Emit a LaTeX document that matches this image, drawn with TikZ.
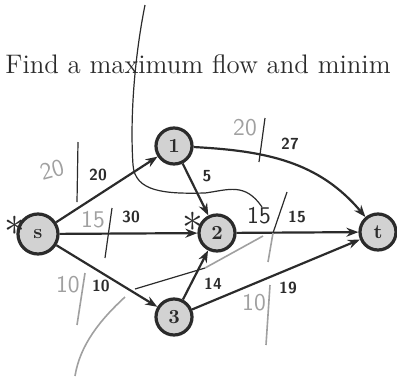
\documentclass[tikz,border=0pt]{standalone}
\usepackage{tikz}
\usetikzlibrary{arrows.meta}
\definecolor{Ink}{HTML}{2B2B2B}
\definecolor{Pencil}{HTML}{A0A0A0}
\definecolor{Shade}{HTML}{D2D2D2}
\tikzset{
  vertex/.style={
    circle,draw=Ink,line width=1.6pt,fill=Shade,inner sep=0pt,
    minimum size=18pt,font=\normalsize\bfseries,text=Ink
  },
  arc/.style={-{Stealth[length=6pt,width=4.5pt]},line width=1.1pt,draw=Ink},
  weight/.style={font=\sffamily\bfseries\footnotesize,text=Ink},
  scrawl/.style={font=\sffamily\large,text=Pencil},
  cutline/.style={line width=0.6pt,draw=Ink},
  pencil/.style={line width=0.8pt,draw=Pencil}
}
\begin{document}
\begin{tikzpicture}[x=0.5pt,y=-0.5pt]
      \useasboundingbox (0,0) rectangle (397,376);
      \node[anchor=base west,font=\fontsize{13.4}{16}\selectfont,text=Ink,inner sep=0pt] (title) at (5,73) {Find a maximum flow and minim};
      \node[vertex,minimum size=20pt] (s) at (38,234) {s};
      \node[vertex] (one) at (174,146) {1};
      \node[vertex] (two) at (217,233) {2};
      \node[vertex] (three) at (174,317) {3};
      \node[vertex] (t) at (378,232) {t};
      \draw[arc] (s) -- (one);
      \draw[arc] (s) -- (two);
      \draw[arc] (s) -- (three);
      \draw[arc] (one) -- (two);
      \draw[arc] (three) -- (two);
      \draw[arc] (two) -- (t);
      \draw[arc] (three) -- (t);
      \draw[arc] (one) to[out=-3,in=130] (t);
      \node[weight] (w1) at (98,175) {20};
      \node[weight] (w2) at (131,217) {30};
      \node[weight] (w3) at (101,286) {10};
      \node[weight] (w4) at (207,176) {5};
      \node[weight] (w5) at (290,144) {27};
      \node[weight] (w6) at (297,217) {15};
      \node[weight] (w7) at (213,284) {14};
      \node[weight] (w8) at (288,288) {19};
      \draw[cutline] (145,5) .. controls (134,60) and (130,120) .. (133,165)
        .. controls (135,192) and (165,194) .. (205,193)
        .. controls (228,190) and (245,182) .. (262,207);
      \draw[cutline] (135,289) -- (205,268);
      \draw[pencil] (205,268) -- (263,236);
      \draw[pencil] (125,297) .. controls (100,320) and (80,345) .. (75,376);
      \draw[cutline] (78,142) -- (77,202);
      \draw[cutline] (112,208) -- (105,258);
      \draw[cutline] (265,118) -- (259,162);
      \draw[cutline] (287,192) -- (273,233);
      \draw[pencil] (273,233) -- (268,262);
      \draw[pencil] (85,273) -- (77,325);
      \draw[pencil] (270,285) -- (266,345);
      \node[scrawl,rotate=15] (f1) at (52,170) {20};
      \node[scrawl] (f2) at (93,220) {15};
      \node[scrawl] (f3) at (68,285) {10};
      \node[scrawl] (f4) at (245,128) {20};
      \node[scrawl,text=Ink] (f5) at (259,216) {15};
      \node[scrawl] (f6) at (254,303) {10};
      \node[font=\huge,text=Ink] (mark1) at (15,226) {$\ast$};
      \node[font=\huge,text=Ink] (mark2) at (193,222) {$\ast$};
    \end{tikzpicture}
\end{document}
